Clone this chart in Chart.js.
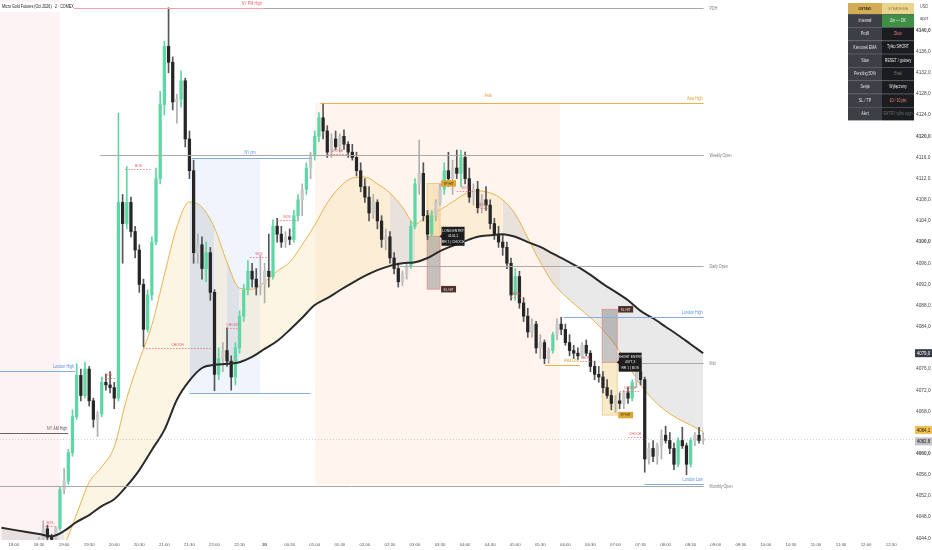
<!DOCTYPE html>
<html><head><meta charset="utf-8">
<script src="https://cdn.jsdelivr.net/npm/chart.js@4.4.1/dist/chart.umd.min.js"></script>
<style>html,body{margin:0;padding:0;background:#fff;overflow:hidden}#wrap{width:932px;height:550px}</style>
</head><body><div id="wrap"><canvas id="c" width="932" height="550"></canvas></div>
<script>
// ---------- DATA (5-minute bars, bar index 0 = 18:00, session break 23:00-00:00 skipped) ----------
const firstBar = 6;
const opens = [
4043.5,4043.9,4045.8,4044.2,4043.8,4045.9,4053.2,4054.8,4060.2,4067.0,
4074.8,4071.0,4076.0,4070.0,4066.5,4067.5,4073.5,4073.0,4072.5,4070.5,
4107.5,4103.5,4107.5,4102.0,4098.5,4092.0,4083.5,4090.0,4100.0,4112.0,
4126.0,4137.0,4134.0,4126.5,4127.0,4130.5,4119.5,4113.5,4098.0,4099.5,
4095.0,4098.0,4090.5,4075.0,4078.0,4079.5,4077.5,4074.5,4080.0,4086.0,
4091.0,4094.5,4093.0,4091.5,4092.0,4094.5,4093.5,4103.0,4101.5,4100.0,
4101.0,4100.5,4105.0,4108.0,4110.0,4114.0,4116.5,4120.0,4123.5,4121.0,
4117.0,4119.5,4118.0,4120.0,4118.5,4117.0,4116.0,4113.5,4110.5,4108.5,
4105.5,4107.5,4104.0,4100.5,4101.0,4097.0,4095.0,4092.5,4094.0,4095.5,
4103.0,4111.0,4113.0,4105.0,4101.5,4105.0,4107.5,4110.0,4113.5,4112.0,
4114.0,4113.0,4116.0,4112.0,4108.5,4110.0,4106.5,4108.0,4107.0,4103.5,
4101.5,4100.0,4099.0,4096.0,4090.0,4093.5,4088.5,4086.0,4083.0,4084.5,
4080.0,4081.0,4078.0,4079.5,4082.5,4084.5,4083.5,4081.0,4079.5,4079.0,
4078.5,4080.5,4079.0,4076.5,4075.0,4074.5,4072.5,4071.0,4069.5,4070.0,
4069.5,4071.5,4070.5,4073.5,4075.5,4074.0,4059.0,4061.0,4059.5,4061.5,
4063.5,4062.5,4061.0,4058.0,4062.5,4061.5,4058.0,4062.5,4063.5,4062.5];
const highs = [
4044.2,4047.3,4046.5,4044.8,4046.2,4053.8,4057.2,4060.8,4068.3,4077.0,
4076.0,4077.3,4076.5,4070.5,4068.0,4074.5,4075.0,4075.5,4073.5,4124.4,
4109.0,4114.3,4108.5,4103.0,4099.5,4093.0,4091.0,4101.0,4114.0,4128.5,
4138.0,4144.3,4135.0,4128.0,4132.4,4131.0,4121.0,4115.5,4101.5,4101.0,
4100.0,4099.0,4091.0,4080.0,4081.0,4083.8,4078.5,4081.0,4087.0,4092.0,
4096.5,4096.0,4095.0,4097.5,4096.0,4101.5,4104.2,4104.5,4103.0,4102.0,
4102.5,4106.0,4109.0,4111.0,4115.0,4117.0,4121.0,4124.5,4126.3,4122.0,
4120.5,4121.0,4120.5,4121.2,4119.0,4118.5,4117.0,4115.0,4112.0,4110.5,
4109.0,4108.0,4105.0,4102.5,4102.0,4098.0,4096.0,4094.5,4096.0,4104.0,
4112.0,4119.3,4115.0,4106.0,4106.0,4108.0,4111.0,4115.0,4117.0,4115.5,
4117.4,4117.4,4117.0,4114.0,4111.0,4111.5,4109.0,4110.5,4108.0,4104.5,
4103.0,4101.5,4100.0,4097.0,4095.0,4094.5,4089.5,4087.5,4085.5,4085.0,
4082.5,4081.5,4080.0,4083.0,4085.5,4085.8,4084.5,4082.5,4080.5,4080.0,
4081.0,4081.5,4079.5,4077.5,4076.5,4075.5,4074.0,4072.0,4071.0,4071.5,
4072.0,4072.6,4074.0,4076.5,4077.8,4074.5,4062.0,4062.5,4062.0,4064.5,
4065.2,4064.0,4062.0,4063.0,4065.0,4062.0,4063.0,4064.0,4065.0,4064.0];
const lows = [
4042.8,4043.5,4043.6,4043.0,4043.5,4045.5,4052.4,4054.2,4059.5,4066.5,
4070.0,4070.5,4069.0,4065.0,4063.2,4067.0,4072.0,4071.5,4068.5,4070.0,
4096.0,4102.5,4101.0,4097.0,4090.5,4080.2,4083.0,4089.0,4099.5,4111.0,
4124.0,4132.0,4125.0,4122.5,4125.5,4118.0,4112.0,4096.0,4096.0,4093.0,
4092.5,4089.0,4071.9,4074.0,4075.5,4076.5,4072.0,4073.0,4079.0,4085.0,
4090.0,4091.5,4090.0,4090.0,4088.5,4091.5,4093.0,4100.0,4099.0,4099.0,
4099.5,4100.0,4104.0,4105.0,4109.0,4112.0,4115.5,4119.0,4119.5,4116.0,
4116.0,4117.5,4117.0,4117.5,4116.0,4115.5,4112.5,4109.5,4107.5,4104.0,
4104.5,4102.5,4099.0,4098.5,4096.0,4094.0,4091.5,4091.8,4093.0,4095.0,
4102.5,4109.0,4104.0,4100.5,4101.0,4104.0,4107.0,4109.0,4110.5,4109.0,
4112.0,4110.5,4111.0,4107.5,4107.0,4105.5,4105.5,4106.0,4102.5,4100.5,
4099.0,4097.5,4095.0,4089.0,4089.0,4087.5,4085.0,4082.0,4082.0,4079.0,
4078.0,4077.0,4077.1,4079.0,4081.5,4082.5,4080.5,4078.5,4078.0,4077.8,
4078.0,4078.5,4075.5,4074.0,4073.5,4071.5,4070.5,4068.3,4067.8,4068.5,
4068.5,4069.5,4070.0,4072.5,4073.0,4056.5,4058.0,4058.5,4058.0,4059.0,
4062.0,4060.0,4057.0,4057.5,4061.0,4056.0,4057.5,4061.5,4062.0,4061.8];
const closes = [
4043.9,4045.8,4044.2,4043.8,4045.9,4053.2,4054.8,4060.2,4067.0,4074.8,
4071.0,4076.0,4070.0,4066.5,4067.5,4073.5,4073.0,4072.5,4070.5,4107.5,
4103.5,4107.5,4102.0,4098.5,4092.0,4083.5,4090.0,4100.0,4112.0,4126.0,
4137.0,4134.0,4126.5,4127.0,4130.5,4119.5,4113.5,4098.0,4099.5,4095.0,
4098.0,4090.5,4075.0,4078.0,4079.5,4077.5,4074.5,4080.0,4086.0,4091.0,
4094.5,4093.0,4091.5,4092.0,4094.5,4093.5,4103.0,4101.5,4100.0,4101.0,
4100.5,4105.0,4108.0,4110.0,4114.0,4116.5,4120.0,4123.5,4121.0,4117.0,
4119.5,4118.0,4120.0,4118.5,4117.0,4116.0,4113.5,4110.5,4108.5,4105.5,
4107.5,4104.0,4100.5,4101.0,4097.0,4095.0,4092.5,4094.0,4095.5,4103.0,
4111.0,4113.0,4105.0,4101.5,4105.0,4107.5,4110.0,4113.5,4112.0,4114.0,
4113.0,4116.0,4112.0,4108.5,4110.0,4106.5,4108.0,4107.0,4103.5,4101.5,
4100.0,4099.0,4096.0,4090.0,4093.5,4088.5,4086.0,4083.0,4084.5,4080.0,
4081.0,4078.0,4079.5,4082.5,4084.5,4083.5,4081.0,4079.5,4079.0,4078.5,
4080.5,4079.0,4076.5,4075.0,4074.5,4072.5,4071.0,4069.5,4070.0,4069.5,
4071.5,4070.5,4073.5,4075.5,4074.0,4059.0,4061.0,4059.5,4061.5,4063.5,
4062.5,4061.0,4058.0,4062.5,4061.5,4058.0,4062.5,4063.5,4062.5,4062.8];

// EMA lines, one reading every 3 bars starting at bar -3
const emaFirst = -3, emaStep = 3;
const emaSlow = [
4046.0,4045.6,4045.2,4044.8,4044.4,4045.4,4047.1,4048.4,4050.1,4051.4,
4053.9,4056.9,4060.7,4064.5,4070.2,4073.8,4076.2,4076.8,4077.0,4077.3,
4078.3,4079.8,4081.3,4083.4,4085.7,4088.1,4089.4,4090.9,4092.3,4093.6,
4094.7,4095.5,4096.0,4096.2,4097.0,4098.3,4099.3,4100.2,4101.0,4101.3,
4101.5,4101.0,4100.0,4099.1,4097.8,4096.6,4095.3,4093.8,4092.1,4090.6,
4089.0,4087.0,4085.6,4084.0,4082.4,4080.7,4079.0];
const emaFast = [
4041.5,4041.0,4040.8,4040.8,4041.2,4042.8,4048.6,4054.6,4057.5,4061.3,
4070.5,4077.7,4084.3,4093.8,4102.9,4107.6,4106.6,4102.7,4096.2,4091.3,
4091.1,4092.5,4094.5,4096.2,4099.5,4103.2,4107.4,4110.4,4112.1,4112.3,
4111.0,4109.3,4106.6,4103.4,4105.1,4106.1,4107.6,4109.1,4109.7,4109.3,
4108.0,4105.3,4100.8,4096.2,4092.3,4089.8,4087.7,4085.7,4083.4,4080.5,
4076.8,4073.0,4070.2,4068.1,4066.6,4065.4,4064.1];
// trend state between readings: c = price above fast EMA, g = below
const fillZone = 'gggggccccccccccggcgccccccccccccggcccccccgggggggggggggggg';

const timeTicks = ['18:00','18:30','19:00','19:30','20:00','20:30','21:00','21:30','22:00','22:30','30',
 '00:30','01:00','01:30','02:00','02:30','03:00','03:30','04:00','04:30','05:00','05:30','06:00','06:30',
 '07:00','07:30','08:00','08:30','09:00','09:30','10:00','10:30','11:00','11:30','12:00','12:30'];
const priceTicks = [4044,4048,4052,4056,4060,4068,4072,4076,4084,4088,4092,4096,4100,4104,4108,4112,4116,4120,4124,4128,4132,4136,4140];

// sessions
const sessName   = ['Pre', 'NY pm', 'Asia'];
const sessFrom   = [-3.4, 42.1, 72.1];
const sessTo     = [11.0, 58.9, 130.7];
const sessTop    = [4146, 4115.9, 4126.3];
const sessBottom = [4043, 4071.5, 4054.1];

// key levels
const lvlName  = ['PDH','NY PM High','Weekly Open','NY pm','','Asia High','Daily Open','London High','Asia Low','Mid','London Low','Monthly Open','London High','NY AM High'];
const lvlPrice = [4144.3,4144.3,4116.5,4115.9,4071.5,4126.3,4095.5,4085.8,4076.8,4077.1,4054.3,4053.9,4075.6,4063.9];
const lvlFrom  = [59.6,13.9,20.6,42.6,42.0,73.3,92.4,131.5,127.1,150.0,151.0,-3.4,-3.4,-3.4];
const lvlTo    = [165.1,59.6,165.1,71.3,71.0,165.1,165.1,165.1,135.5,165.1,165.1,165.1,14.6,13.0];
const lvlLabelAt = [null,null,null,56.5,null,null,null,null,null,null,null,null,null,null];

// structure breaks
const sigName  = ['BOS','BOS','BOS','CHOCH','CHOCH','BOS','BOS','CHOCH','BOS','BOS','BOS','BOS','CHOCH','CHOCH'];
const sigPrice = [4046.3,4074.3,4113.9,4080.0,4083.8,4097.2,4104.2,4116.7,4109.6,4106.4,4089.6,4077.5,4071.8,4063.1];
const sigFrom  = [7.4,21.0,26.6,30.9,51.0,56.5,63.0,75.0,106.0,111.0,119.0,135.5,145.0,147.0];
const sigTo    = [9.8,24.2,33.0,47.4,53.6,60.8,67.7,79.7,110.0,113.4,121.5,138.5,150.0,150.4];

// trades
const tradeSide  = ['LONG','SHORT'];
const tradeTag   = ['CHOCH','BOS'];
const tradeEntry = [4101.1, 4077.3];
const tradeSL    = [4091.1, 4087.3];
const tradeTP    = [4111.1, 4067.3];
const tradeFrom  = [98.9, 140.8];
const tradeTo    = [102.0, 144.4];

// last values
const lastSlow = 4079.0, lastFast = 4064.1, lastPrice = 4062.8;

// panel
const tableHead = ['USTAW.', 'STRATEGIA'];
const tableKeys = ['Interwał','Profil','Kierunek EMA','Stan','Pending 50%','Sesja','SL / TP','Alert'];
const tableVals = ['2m — OK','Złoto','Tylko SHORT','RESET / gotowy','Brak','Wyłączony','10 / 10 pkt','ENTRY tylko sygn'];
const titleText = 'Micro Gold Futures (Oct 2026) · 2 · COMEX';

// ---------- STYLE ----------
const FF = "'Liberation Sans',Arial,sans-serif";
const fnt = (s, w) => (w || 'normal') + ' ' + s + 'px ' + FF;
const SQ = 0.8; // horizontal condensing of annotation text
const FILL_C = 'rgba(240,205,120,0.20)', FILL_G = 'rgba(140,140,140,0.19)';
const SESS_FILL = ['rgba(240,100,110,0.08)','rgba(90,140,230,0.09)','rgba(255,190,140,0.15)'];
const LVL_KIND = ['gray','red','gray','blue','blue','orange','gray','blue','gold','gray','blue','gray','blue','dark'];
const LVL_MODE = ['right','end','right','mid','none','end','right','end','end','right','end','right','end','end'];
const LVL_LINE = {gray:'#a9a9a9', red:'#f2a0a8', blue:'#88aee0', orange:'#e8b04e', gold:'#e3b44c', dark:'#666'};
const LVL_TEXT = {gray:'#7a7a7a', red:'#e06a74', blue:'#5a8fd2', orange:'#d9a03a', gold:'#d9a03a', dark:'#555'};

const bars = opens.map((o, k) => firstBar + k);
const upStrong = (k) => closes[k] - opens[k] >= 3;
const bodyColors = opens.map((o, k) => closes[k] >= o ? (upStrong(k) ? '#5ed6a5' : '#c9c9c9') : '#262626');
const wickColors = opens.map((o, k) => closes[k] >= o ? (upStrong(k) ? '#5ed6a5' : '#b0b0b0') : '#555');
const emaX = emaSlow.map((v, k) => emaFirst + k * emaStep);

function txt(ctx, s, x, y, size, color, align, weight) {
  ctx.save(); ctx.translate(x, y); ctx.scale(SQ, 1);
  ctx.font = fnt(size, weight); ctx.fillStyle = color; ctx.textAlign = align || 'left'; ctx.textBaseline = 'middle';
  ctx.fillText(s, 0, 0); ctx.restore();
}
function tag(ctx, s, x, y, w, h, bg, fg, size) {
  ctx.fillStyle = bg; ctx.fillRect(x, y - h / 2, w, h); txt(ctx, s, x + w / 2, y + 0.3, size, fg, 'center');
}

const annot = {
  id: 'annot',
  beforeDatasetsDraw(chart) {
    const {ctx, chartArea: a} = chart, X = v => chart.scales.x.getPixelForValue(v), Y = v => chart.scales.y.getPixelForValue(v);
    ctx.save(); ctx.beginPath(); ctx.rect(a.left, a.top, a.right - a.left, a.bottom - a.top); ctx.clip();
    sessName.forEach((n, k) => {
      const x0 = X(sessFrom[k]), x1 = X(sessTo[k]), y0 = Y(sessTop[k]), y1 = Y(sessBottom[k]);
      ctx.fillStyle = SESS_FILL[k]; ctx.fillRect(x0, y0, x1 - x0, y1 - y0);
    });
    ctx.restore();
  },
  beforeDatasetDraw(chart, args) {
    if (args.index !== 2) return;
    const {ctx} = chart, X = v => chart.scales.x.getPixelForValue(v), Y = v => chart.scales.y.getPixelForValue(v);
    ctx.save();
    tradeSide.forEach((s, k) => {
      const x0 = X(tradeFrom[k]), x1 = X(tradeTo[k]), ye = Y(tradeEntry[k]), yt = Y(tradeTP[k]), ys = Y(tradeSL[k]);
      ctx.fillStyle = 'rgba(236,190,90,0.33)'; ctx.fillRect(x0, Math.min(ye, yt), x1 - x0, Math.abs(yt - ye));
      ctx.fillStyle = 'rgba(105,105,105,0.38)'; ctx.fillRect(x0, Math.min(ye, ys), x1 - x0, Math.abs(ys - ye));
      ctx.lineWidth = 0.7;
      ctx.strokeStyle = 'rgba(225,190,110,0.9)'; ctx.strokeRect(x0, Math.min(ye, yt), x1 - x0, Math.abs(yt - ye));
      ctx.strokeStyle = 'rgba(230,120,130,0.85)'; ctx.strokeRect(x0, Math.min(ye, ys), x1 - x0, Math.abs(ys - ye));
    });
    ctx.restore();
  },
  afterDatasetsDraw(chart) {
    const {ctx, chartArea: a} = chart, X = v => chart.scales.x.getPixelForValue(v), Y = v => chart.scales.y.getPixelForValue(v);
    ctx.save(); ctx.beginPath(); ctx.rect(a.left, a.top, a.right - a.left, a.bottom - a.top); ctx.clip();
    ctx.strokeStyle = 'rgba(130,130,130,0.45)'; ctx.lineWidth = 0.8; ctx.setLineDash([1, 2]);
    const yp = Math.round(Y(lastPrice)) + 0.5; ctx.beginPath(); ctx.moveTo(a.left, yp); ctx.lineTo(a.right, yp); ctx.stroke();
    ctx.setLineDash([]);
    lvlName.forEach((n, k) => {
      const kind = LVL_KIND[k], x0 = X(lvlFrom[k]), x1 = X(lvlTo[k]), y = Math.round(Y(lvlPrice[k])) + 0.5;
      ctx.strokeStyle = LVL_LINE[kind]; ctx.lineWidth = 1; ctx.beginPath(); ctx.moveTo(x0, y); ctx.lineTo(x1, y); ctx.stroke();
      const m = LVL_MODE[k];
      if (m === 'right') txt(ctx, n, x1 + 6, y, 4.6, LVL_TEXT[kind], 'left');
      else if (m === 'end') txt(ctx, n, x1 - 1, y - 5, 4.6, LVL_TEXT[kind], 'right');
      else if (m === 'mid') txt(ctx, n, X(lvlLabelAt[k]), y - 6, 4.6, LVL_TEXT[kind], 'center');
    });
    txt(ctx, 'Asia', X(113.5), Y(4126.3) - 7, 4.6, LVL_TEXT.orange, 'center');
    sigName.forEach((n, k) => {
      const x0 = X(sigFrom[k]), x1 = X(sigTo[k]), y = Math.round(Y(sigPrice[k])) + 0.5;
      ctx.strokeStyle = '#ef6b73'; ctx.lineWidth = 0.8; ctx.setLineDash([1.5, 1.5]);
      ctx.beginPath(); ctx.moveTo(x0, y); ctx.lineTo(x1, y); ctx.stroke(); ctx.setLineDash([]);
      txt(ctx, n, (x0 + x1) / 2, y - 3.2, 4.2, '#e8505a', 'center');
    });
    ctx.restore();
    tradeSide.forEach((s, k) => {
      const x1 = X(tradeTo[k]), ye = Y(tradeEntry[k]), yt = Y(tradeTP[k]), ys = Y(tradeSL[k]);
      tag(ctx, 'TP HIT', x1 + 1, yt, 15, 6.5, '#d9a83a', '#3a2a05', 4);
      tag(ctx, 'SL HIT', x1 + 1, ys, 15, 6.5, '#4b332b', '#f3d9cf', 4);
      const lx = x1 + 1.5, w = 23, h = 19;
      ctx.fillStyle = '#1d1d1d';
      ctx.beginPath(); ctx.moveTo(lx - 2, ye); ctx.lineTo(lx + 1, ye - 2.5); ctx.lineTo(lx + 1, ye + 2.5); ctx.fill();
      ctx.fillRect(lx, ye - h / 2, w, h);
      txt(ctx, s + ' ENTRY', lx + w / 2, ye - 5.6, 4.2, '#f2f2f2', 'center');
      txt(ctx, tradeEntry[k].toFixed(1).replace('.', ','), lx + w / 2, ye, 4.2, '#f2f2f2', 'center');
      txt(ctx, 'RR 1 | ' + tradeTag[k], lx + w / 2, ye + 5.6, 4.2, '#f2f2f2', 'center');
    });
  },
  afterDraw(chart) {
    const {ctx, chartArea: a} = chart, Y = v => chart.scales.y.getPixelForValue(v);
    ctx.fillStyle = '#fff'; ctx.fillRect(0, 2, 74, 10);
    txt(ctx, titleText, 2, 7, 4.6, '#222', 'left');
    txt(ctx, 'USD', 920, 7, 4.8, '#555', 'left');
    txt(ctx, 'apoz', 920, 19, 4.8, '#555', 'left');
    const ax = a.right + 1, aw = 932 - ax;
    tag(ctx, lastSlow.toFixed(1).replace('.', ','), ax, Y(lastSlow), aw, 8, '#363a45', '#ffffff', 5.6);
    tag(ctx, lastFast.toFixed(1).replace('.', ','), ax, Y(lastFast) - 2, aw, 8, '#f0bf55', '#2a2000', 5.6);
    tag(ctx, lastPrice.toFixed(1).replace('.', ','), ax, Y(lastPrice) + 2.5, aw, 8, '#c4c4c4', '#222', 5.6);
    const tx = 848, cw = [34, 32], hh = 11, rh = 13.3, ty = 3;
    ctx.fillStyle = '#d2ad56'; ctx.fillRect(tx, ty, cw[0], hh);
    ctx.fillStyle = '#ead491'; ctx.fillRect(tx + cw[0], ty, cw[1], hh);
    txt(ctx, tableHead[0], tx + cw[0] / 2, ty + hh / 2, 4.4, '#3a2c0a', 'center', 'bold');
    txt(ctx, tableHead[1], tx + cw[0] + cw[1] / 2, ty + hh / 2, 4.4, '#9a7c30', 'center');
    const valColor = ['#f4f4f4', '#ec7d7d', '#e6e6e6', '#e6e6e6', '#7a7a7a', '#e6e6e6', '#f08c78', '#6e6e6e'];
    tableKeys.forEach((key, r) => {
      const y0 = ty + hh + r * rh;
      ctx.fillStyle = '#3c3f45'; ctx.fillRect(tx, y0, cw[0], rh);
      ctx.fillStyle = r === 0 ? '#3f8f45' : '#1b1c1f'; ctx.fillRect(tx + cw[0], y0, cw[1], rh);
      ctx.fillStyle = '#5a5d63'; ctx.fillRect(tx, y0, cw[0] + cw[1], 0.6);
      txt(ctx, key, tx + cw[0] / 2, y0 + rh / 2, 4.6, '#e0e0e0', 'center');
      txt(ctx, tableVals[r], tx + cw[0] + cw[1] / 2, y0 + rh / 2, 4.5, valColor[r], 'center');
    });
  }
};

new Chart(document.getElementById('c'), {
  type: 'bar',
  data: {
    datasets: [
      { type: 'line', label: 'EMA fast', data: emaX.map((x, k) => ({x, y: emaFast[k]})), borderColor: '#ebb24c', borderWidth: 1,
        pointRadius: 0, cubicInterpolationMode: 'monotone', fill: '+1', backgroundColor: FILL_C,
        segment: { backgroundColor: c => fillZone[c.p0DataIndex] === 'g' ? FILL_G : FILL_C }, order: 10 },
      { type: 'line', label: 'EMA slow', data: emaX.map((x, k) => ({x, y: emaSlow[k]})), borderColor: '#2a2a2a', borderWidth: 2,
        pointRadius: 0, cubicInterpolationMode: 'monotone', fill: false, order: 1 },
      { type: 'bar', label: 'wick', data: bars.map((i, k) => ({x: i, y: [lows[k], highs[k]]})), backgroundColor: wickColors,
        barThickness: 1, grouped: false, order: 5 },
      { type: 'bar', label: 'body', data: bars.map((i, k) => ({x: i, y: [Math.min(opens[k], closes[k]), Math.max(opens[k], closes[k])]})),
        backgroundColor: bodyColors, barThickness: 2.6, grouped: false, minBarLength: 1, order: 4 }
    ]
  },
  options: {
    responsive: false, animation: false, events: [],
    layout: { padding: 0 },
    plugins: { legend: { display: false }, tooltip: { enabled: false } },
    scales: {
      x: { type: 'linear', min: -3.352, max: 215.466, offset: false,
        grid: { display: false, drawTicks: false }, border: { display: false },
        afterBuildTicks: s => { s.ticks = timeTicks.map((t, k) => ({value: k * 6})); },
        afterFit: s => { s.height = 10; s.paddingLeft = 0; s.paddingRight = 0; },
        ticks: { autoSkip: false, maxRotation: 0, padding: 2, color: '#555',
          font: c => ({family: FF, size: 4.3, weight: (c.tick && c.tick.value === 60) ? 'bold' : 'normal'}),
          callback: v => timeTicks[Math.round(v / 6)] } },
      y: { type: 'linear', position: 'right', min: 4043.686, max: 4145.766,
        grid: { display: false, drawTicks: false }, border: { display: false },
        afterBuildTicks: s => { s.ticks = priceTicks.map(v => ({value: v})); },
        afterFit: s => { s.width = 18; s.paddingTop = 0; s.paddingBottom = 0; },
        ticks: { autoSkip: false, padding: 2, color: '#444',
          font: c => ({family: FF, size: 4.8, weight: (c.tick && c.tick.value % 20 === 0) ? 'bold' : 'normal'}),
          callback: v => v.toFixed(1).replace('.', ',') } }
    }
  },
  plugins: [annot]
});
</script>
</body></html>
